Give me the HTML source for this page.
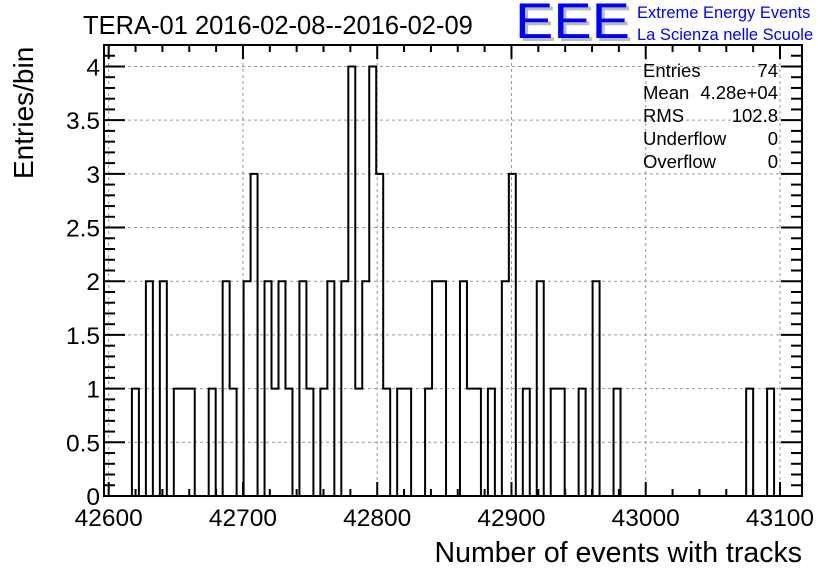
<!DOCTYPE html>
<html><head><meta charset="utf-8"><style>
body{margin:0;background:#fff;}
svg{display:block;font-family:"Liberation Sans",Arial,sans-serif;}
</style></head><body>
<svg id="chart" width="836" height="572" viewBox="0 0 836 572">
<rect x="0" y="0" width="836" height="572" fill="#fff"/>
<text x="83" y="34" font-size="25.5">TERA-01 2016-02-08--2016-02-09</text>
<g>
<text x="518" y="41" font-size="50" fill="#bbb" textLength="115" lengthAdjust="spacingAndGlyphs">EEE</text>
<text x="515" y="38" font-size="50" fill="#00f" textLength="115" lengthAdjust="spacingAndGlyphs">EEE</text>
<text x="637" y="18" font-size="16.5" fill="#00f">Extreme Energy Events</text>
<text x="637" y="40" font-size="16.5" fill="#00f">La Scienza nelle Scuole</text>
</g>
<g id="grid"></g>
<g id="axes"></g>
<path id="hist" fill="none" stroke="#000" stroke-width="2"/>
<rect x="104" y="45" width="698" height="451" fill="none" stroke="#000" stroke-width="2"/>
<g font-size="18.5">
<text x="643" y="77">Entries</text><text x="778" y="77" text-anchor="end">74</text>
<text x="643" y="99">Mean</text><text x="778" y="99" text-anchor="end">4.28e+04</text>
<text x="643" y="122">RMS</text><text x="778" y="122" text-anchor="end">102.8</text>
<text x="643" y="145">Underflow</text><text x="778" y="145" text-anchor="end">0</text>
<text x="643" y="168">Overflow</text><text x="778" y="168" text-anchor="end">0</text>
</g>
<text x="802" y="562" font-size="28.5" text-anchor="end">Number of events with tracks</text>
<text transform="translate(33,179) rotate(-90)" font-size="28">Entries/bin</text>
</svg>
<script>
const binIndices=[4,6,8,10,11,12,15,17,18,20,21,23,24,25,26,28,29,31,32,34,35,36,37,38,39,40,42,43,46,47,48,51,52,53,55,57,58,60,62,64,65,68,70,73,92,95];
const binCounts=[1,2,2,1,1,1,1,2,1,2,3,2,1,2,1,2,1,1,2,2,4,1,2,4,3,1,1,1,1,2,2,2,1,1,1,2,3,1,2,1,1,1,2,1,1,1];
const xTickLabels=["42600","42700","42800","42900","43000","43100"];
const yTickLabels=["0","0.5","1","1.5","2","2.5","3","3.5","4"];
const NBINS=100, XMIN=42596.5, XMAX=43116.4, YMIN=0, YMAX=4.2;
const L=104,R=802,T=45,B=496;
const sx=v=>L+(v-XMIN)/(XMAX-XMIN)*(R-L);
const sy=v=>B-(v-YMIN)/(YMAX-YMIN)*(B-T);
const NS="http://www.w3.org/2000/svg";
const grid=document.getElementById('grid'), axes=document.getElementById('axes');
function line(p,x1,y1,x2,y2,st,dash){const l=document.createElementNS(NS,'line');l.setAttribute('x1',x1);l.setAttribute('y1',y1);l.setAttribute('x2',x2);l.setAttribute('y2',y2);l.setAttribute('stroke',st);l.setAttribute('stroke-width',dash?1:2);if(dash)l.setAttribute('stroke-dasharray','3,3');p.appendChild(l);return l;}
xTickLabels.forEach(t=>{const v=+t,x=sx(v);
 const g=line(grid,x,T,x,B,'#999',true);
 
 
 line(axes,x,B,x,B-14,'#000');line(axes,x,T,x,T+14,'#000');
 const tx=document.createElementNS(NS,'text');tx.setAttribute('x',x);tx.setAttribute('y',526);tx.setAttribute('font-size','24.5');tx.setAttribute('text-anchor','middle');tx.textContent=t;
 
 
 axes.appendChild(tx);});
for(let v=42600;v<=XMAX;v+=20){if(v%100===0)continue;const x=sx(v);line(axes,x,B,x,B-7,'#000');line(axes,x,T,x,T+7,'#000');}
yTickLabels.forEach(t=>{const v=+t,y=sy(v);
 if(v>0){const g=line(grid,L,y,R,y,'#999',true);
 
 }
 line(axes,L,y,L+21,y,'#000');line(axes,R,y,R-21,y,'#000');
 const tx=document.createElementNS(NS,'text');tx.setAttribute('x',100);tx.setAttribute('y',y+9);tx.setAttribute('font-size','24.5');tx.setAttribute('text-anchor','end');tx.textContent=t;
 
 
 axes.appendChild(tx);});
for(let i=1;i<=42;i++){if(i%5===0)continue;const y=sy(i/10);line(axes,L,y,L+11,y,'#000');line(axes,R,y,R-11,y,'#000');}
const counts=new Array(NBINS).fill(0);
binIndices.forEach((b,i)=>counts[b]=binCounts[i]);
const w=(XMAX-XMIN)/NBINS;
let d=`M${sx(XMIN)},${sy(0)}`;
for(let i=0;i<NBINS;i++){const x0=sx(XMIN+i*w),x1=sx(XMIN+(i+1)*w),y=sy(counts[i]);d+=` L${x0},${y} L${x1},${y}`;}
d+=` L${sx(XMAX)},${sy(0)}`;
document.getElementById('hist').setAttribute('d',d);
</script>
</body></html>
